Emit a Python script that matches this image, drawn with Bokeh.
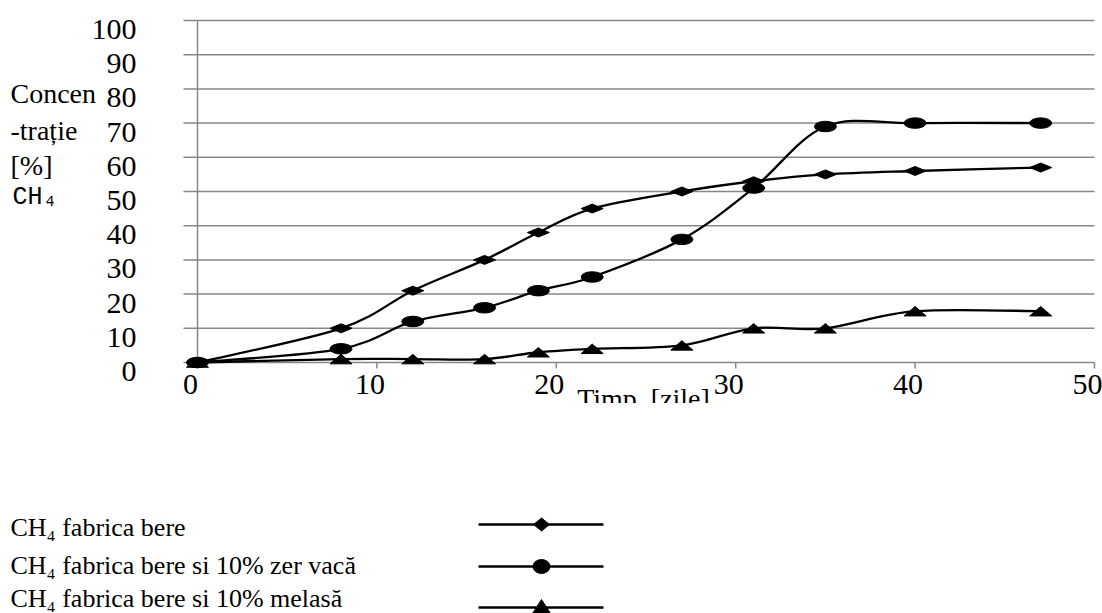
import numpy as np
from bokeh.plotting import figure
from bokeh.models import Range1d, Label
from bokeh.layouts import column
from bokeh.embed import file_html
from bokeh.resources import INLINE

# ---------------- data ----------------
days = [0, 8, 12, 16, 19, 22, 27, 31, 35, 40, 47]
ch4_bere = [0, 10, 21, 30, 38, 45, 50, 53, 55, 56, 57]
ch4_zer = [0, 4, 12, 16, 21, 25, 36, 51, 69, 70, 70]
ch4_melasa = [0, 1, 1, 1, 3, 4, 5, 10, 10, 15, 15]
series_names = ["CH\u2084 fabrica bere",
                "CH\u2084 fabrica bere si 10%  zer vac\u0103",
                "CH\u2084 fabrica bere si 10%  melas\u0103"]
x_ticks = [0, 10, 20, 30, 40, 50]
y_ticks = [0, 10, 20, 30, 40, 50, 60, 70, 80, 90, 100]
x_title = "Timp. [zile]"
y_title_lines = ["Concen", "-tra\u021bie", "[%]"]
y_title_gas = "CH\u2084"

# ---------------- styling / layout ----------------
SERIF = "Liberation Serif"
MONO = "Liberation Mono"
GRID = "#878787"
PX_X = 17.94      # pixels per day
PX_Y = 3.42       # pixels per percent
ORIGIN_X, ORIGIN_Y = 197, 362   # pixel position of (0, 0)

W, H1, H2 = 1102, 403, 210
p = figure(width=W, height=H1,
           x_range=Range1d(-ORIGIN_X / PX_X, (W - ORIGIN_X) / PX_X),
           y_range=Range1d(-(H1 - ORIGIN_Y) / PX_Y, ORIGIN_Y / PX_Y),
           output_backend="svg", toolbar_location=None,
           x_axis_type=None, y_axis_type=None, min_border=0)
p.outline_line_color = None
p.grid.visible = False
p.background_fill_color = "white"
p.border_fill_color = "white"

x_lo = -14 / PX_X
x_hi = x_ticks[-1]
# horizontal grid lines (with their outward tick stubs)
p.segment(x0=[x_lo] * len(y_ticks), y0=y_ticks, x1=[x_hi] * len(y_ticks), y1=y_ticks,
          line_color=GRID, line_width=1.5)
# vertical axis line
p.segment(x0=[0], y0=[y_ticks[0]], x1=[0], y1=[y_ticks[-1]], line_color=GRID, line_width=1.5)
# x tick marks
p.segment(x0=x_ticks, y0=[0] * len(x_ticks), x1=x_ticks, y1=[-6 / PX_Y] * len(x_ticks),
          line_color=GRID, line_width=1.5)


def smooth_segments(xs, ys):
    x = np.asarray(xs, float)
    y = np.asarray(ys, float)
    n = len(x)
    qx = np.concatenate([[x[0]], x, [x[-1]]])
    qy = np.concatenate([[y[0]], y, [y[-1]]])
    x0, y0 = x[:-1], y[:-1]
    x1, y1 = x[1:], y[1:]
    cx0 = x0 + (qx[2:n + 1] - qx[0:n - 1]) / 6.0
    cy0 = y0 + (qy[2:n + 1] - qy[0:n - 1]) / 6.0
    cx1 = x1 - (qx[3:n + 2] - qx[1:n]) / 6.0
    cy1 = y1 - (qy[3:n + 2] - qy[1:n]) / 6.0
    return dict(x0=x0, y0=y0, x1=x1, y1=y1, cx0=cx0, cy0=cy0, cx1=cx1, cy1=cy1)


for ys in (ch4_melasa, ch4_zer, ch4_bere):
    p.bezier(line_color="black", line_width=2.3, **smooth_segments(days, ys))

# markers (flattened shapes as in the reference), sized in pixels
dx = np.asarray(days, float)
hw = 11.0 / PX_X

hh_d = 4.5 / PX_Y
yb = np.asarray(ch4_bere, float)
p.patches(xs=[[a - hw, a, a + hw, a] for a in dx],
          ys=[[b, b + hh_d, b, b - hh_d] for b in yb],
          fill_color="black", line_color="black", line_width=1)

p.ellipse(x=days, y=ch4_zer, width=22, height=10.5,
          width_units="screen", height_units="screen",
          fill_color="black", line_color="black")

hh_t = 4.75 / PX_Y
ym = np.asarray(ch4_melasa, float)
p.patches(xs=[[a - hw, a, a + hw] for a in dx],
          ys=[[b - hh_t, b + hh_t, b - hh_t] for b in ym],
          fill_color="black", line_color="black", line_width=1)

# tick labels
for t in x_ticks:
    p.add_layout(Label(x=t, y=0, text=str(t), x_offset=-7, y_offset=-22,
                       text_align="center", text_baseline="middle",
                       text_font=SERIF, text_font_size="30px", text_color="black"))
for t in y_ticks:
    p.add_layout(Label(x=0, y=t, text=str(t), x_offset=-61, y_offset=-9,
                       text_align="right", text_baseline="middle",
                       text_font=SERIF, text_font_size="30px", text_color="black"))

# axis titles
for i, line in enumerate(y_title_lines):
    p.add_layout(Label(x=0, y=100, text=line, x_offset=-187, y_offset=[-73, -110, -145][i],
                       text_align="left", text_baseline="middle",
                       text_font=SERIF, text_font_size="28px", text_color="black"))
p.add_layout(Label(x=0, y=100, text=y_title_gas, x_offset=-185, y_offset=-177,
                   text_align="left", text_baseline="middle",
                   text_font=MONO, text_font_size="25px", text_color="black"))
p.add_layout(Label(x=0, y=0, text=x_title, x_offset=446, y_offset=-36,
                   text_align="center", text_baseline="middle",
                   text_font=SERIF, text_font_size="28px", text_color="black"))

# ---------------- legend panel ----------------
leg = figure(width=W, height=H2, x_range=Range1d(0, W), y_range=Range1d(0, H2),
             output_backend="svg", toolbar_location=None,
             x_axis_type=None, y_axis_type=None, min_border=0)
leg.outline_line_color = None
leg.grid.visible = False
leg.background_fill_color = "white"
leg.border_fill_color = "white"

text_rows = [86, 48, 15]
line_rows = [89, 47, 6]
sx0, sx1, mx = 478, 603, 541
for i, name in enumerate(series_names):
    r = line_rows[i]
    leg.line([sx0, sx1], [r, r], line_color="black", line_width=2.3)
    leg.add_layout(Label(x=10, y=text_rows[i], text=name, text_align="left",
                         text_baseline="middle",
                         text_font=SERIF, text_font_size="26px", text_color="black"))
r = line_rows[0]
leg.patches(xs=[[mx - 8, mx, mx + 8, mx]], ys=[[r, r + 6.5, r, r - 6.5]],
            fill_color="black", line_color="black")
r = line_rows[1]
leg.ellipse(x=[mx], y=[r], width=17, height=14, fill_color="black", line_color="black")
r = line_rows[2]
leg.patches(xs=[[mx - 9, mx, mx + 9]], ys=[[r - 6, r + 8, r - 6]],
            fill_color="black", line_color="black")

layout = column(p, leg, spacing=0)
open("out.html", "w").write(file_html(layout, INLINE))
